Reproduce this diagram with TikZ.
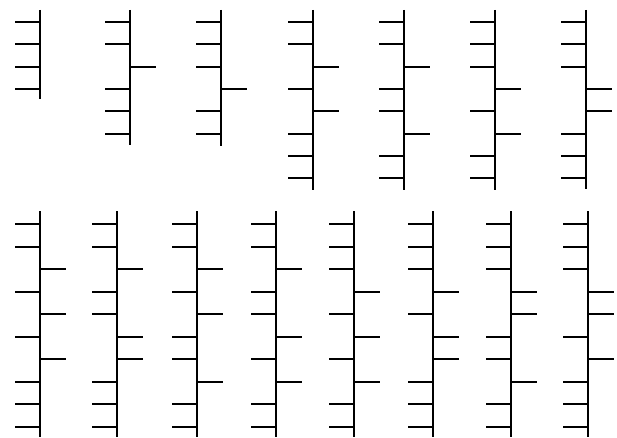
\documentclass[tikz,border=0pt]{standalone}
\usepackage{tikz}

\tikzset{
  spine/.style={line width=2.6pt},
  barb/.style={line width=2pt}
}

\begin{document}
\begin{tikzpicture}[x=1pt,y=-1pt]
  \useasboundingbox (0,0) rectangle (617,438);
  % top row: spine x / spine bottom / side of each barb (-1 left, 1 right)
  \foreach \x/\ybot/\sides in {
      40/99/{-1,-1,-1,-1},
      130/145/{-1,-1,1,-1,-1,-1},
      221/146/{-1,-1,-1,1,-1,-1},
      313/190/{-1,-1,1,-1,1,-1,-1,-1},
      404/190/{-1,-1,1,-1,-1,1,-1,-1},
      495/190/{-1,-1,-1,1,-1,1,-1,-1},
      586/189/{-1,-1,-1,1,1,-1,-1,-1}}{
    \draw[spine] (\x,10) -- (\x,\ybot);
    \foreach \s [count=\i] in \sides
      \draw[barb] (\x,{round(21.8+22.35*(\i-1))}) -- ++({25.5*\s},0);
  }
  % bottom row
  \foreach \x/\sides in {
      40/{-1,-1,1,-1,1,-1,1,-1,-1,-1},
      117/{-1,-1,1,-1,-1,1,1,-1,-1,-1},
      197/{-1,-1,1,-1,1,-1,-1,1,-1,-1},
      276/{-1,-1,1,-1,-1,1,-1,1,-1,-1},
      354/{-1,-1,-1,1,-1,1,-1,1,-1,-1},
      433/{-1,-1,-1,1,-1,1,1,-1,-1,-1},
      511/{-1,-1,-1,1,1,-1,-1,1,-1,-1},
      588/{-1,-1,-1,1,1,-1,1,-1,-1,-1}}{
    \draw[spine] (\x,211) -- (\x,437);
    \foreach \s [count=\i] in \sides
      \draw[barb] (\x,{round(224+22.55*(\i-1))}) -- ++({25.5*\s},0);
  }
\end{tikzpicture}
\end{document}
